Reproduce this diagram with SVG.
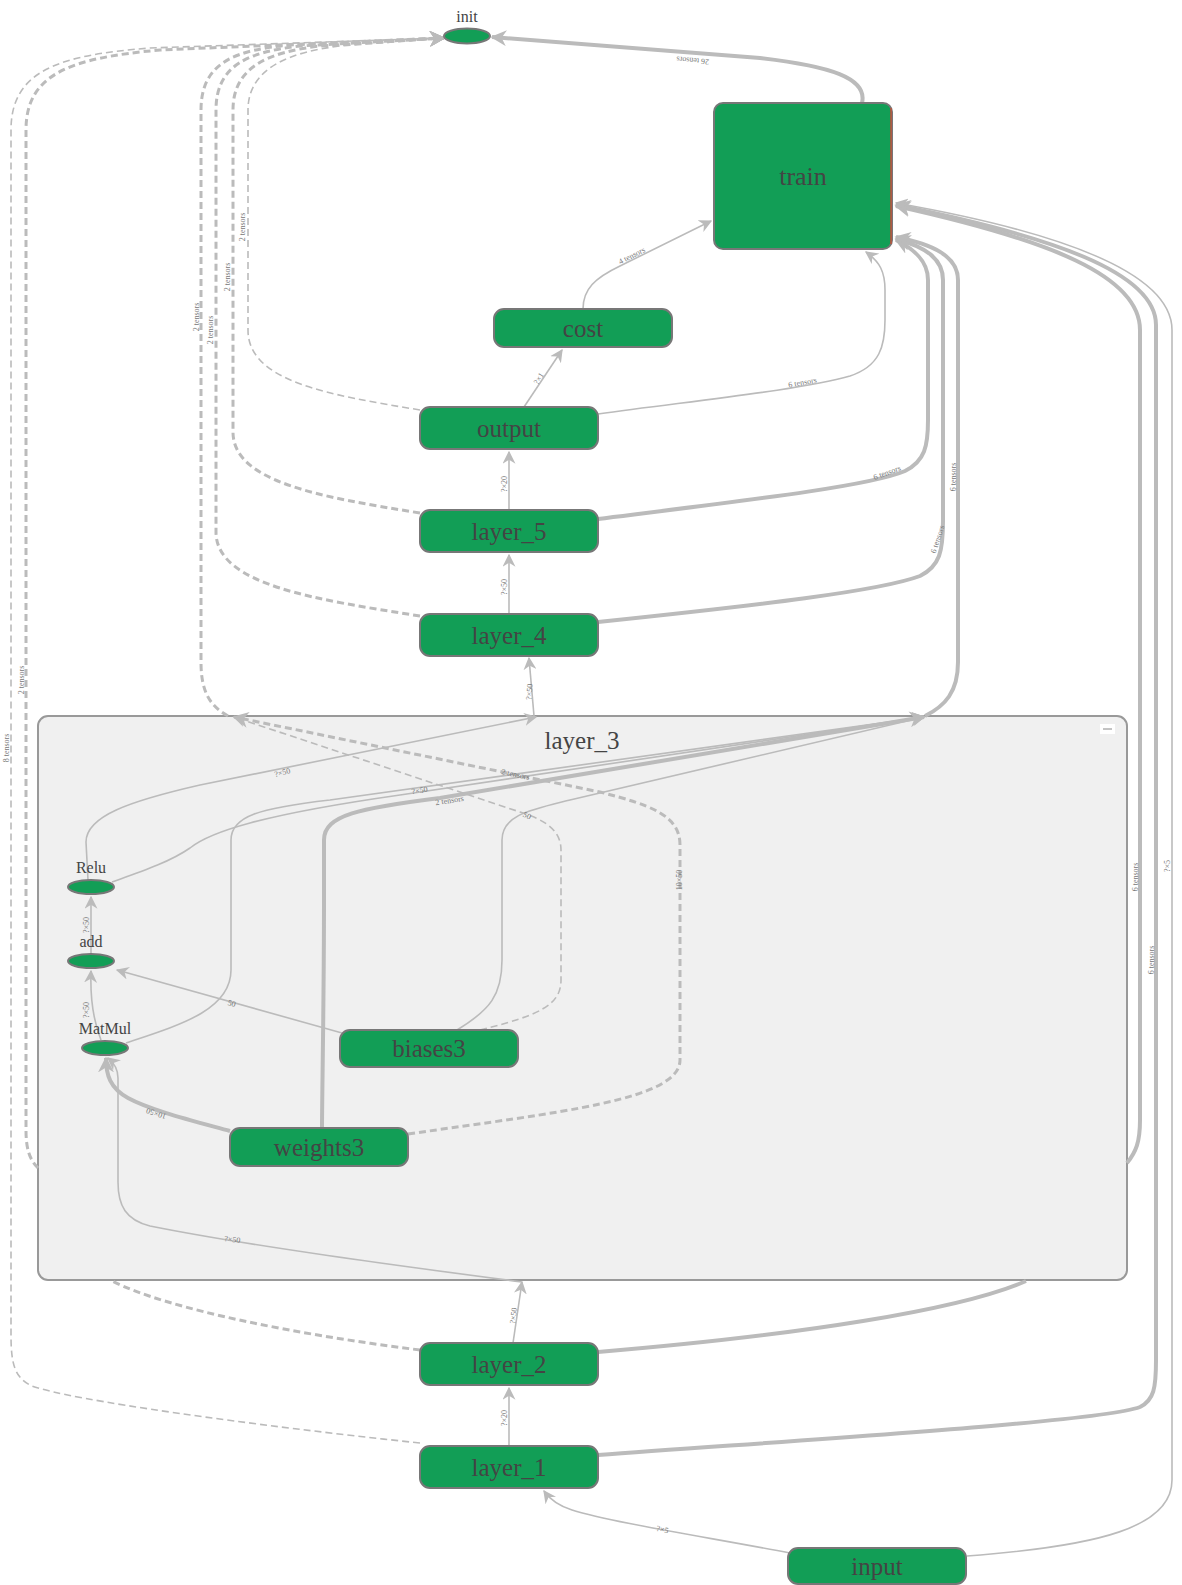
<svg xmlns="http://www.w3.org/2000/svg" width="1182" height="1585" viewBox="0 0 1182 1585">
  <defs>
    <marker id="arr" viewBox="0 0 10 10" refX="9" refY="5" markerWidth="13" markerHeight="13" markerUnits="userSpaceOnUse" orient="auto">
      <path d="M0,0 L10,5 L0,10 L3,5 z" fill="#bbbbbb"/>
    </marker>
    <marker id="arrBig" viewBox="0 0 10 10" refX="9" refY="5" markerWidth="16" markerHeight="16" markerUnits="userSpaceOnUse" orient="auto">
      <path d="M0,0 L10,5 L0,10 L3,5 z" fill="#bbbbbb"/>
    </marker>
    <style>
      .op { fill: #129e56; stroke: #777; stroke-width: 2; }
      .name { font-family: "Liberation Serif", "DejaVu Serif", serif; fill: #444; text-anchor: middle; }
      .big { font-size: 25px; }
      .small { font-size: 16px; }
      .e { fill: none; stroke: #bbbbbb; stroke-width: 1.6; marker-end: url(#arr); }
      .thick { stroke-width: 4; marker-end: url(#arrBig); }
      .dash { stroke-dasharray: 7 4; }
      .lbl { font-family: "Liberation Serif", "DejaVu Serif", serif; font-size: 8px; fill: #777; text-anchor: middle; }
    </style>
  </defs>

  <rect width="1182" height="1585" fill="#ffffff"/>

  <!-- cluster -->
  <g id="layer_3">
    <rect x="38" y="716" width="1089" height="564" rx="10" fill="#f0f0f0" stroke="#999" stroke-width="2"/>
    <text class="name big" x="582" y="749">layer_3</text>
    <rect x="1100" y="724" width="15" height="10" fill="#ffffff"/>
    <line x1="1103" y1="729" x2="1112" y2="729" stroke="#888" stroke-width="1"/>
  </g>

  <!-- connectors -->
  <g id="edges">
    <!-- into init -->
    <path class="e thick" d="M862,103 C868,78 830,66 760,58 L492,37"/>
    <path class="e dash" d="M420,410 C330,395 248,382 248,330 L248,110 C248,68 290,52 340,46 L444,38"/>
    <path class="e thick dash" style="stroke-width:3" d="M420,513 C320,497 233,482 233,432 L233,110 C233,66 270,52 320,46 L444,38"/>
    <path class="e thick dash" style="stroke-width:3" d="M420,616 C320,600 216,586 216,532 L216,110 C216,64 250,52 300,46 L444,38"/>
    <path class="e thick dash" style="stroke-width:3" d="M228,716 C210,706 201,692 201,662 L201,110 C201,62 236,50 290,45 L444,38"/>
    <path class="e thick dash" style="stroke-width:3" d="M420,1350 C300,1335 170,1310 112,1281 M38,1168 C30,1160 26,1150 26,1130 L26,130 C26,74 70,58 160,50 L444,38"/>
    <path class="e dash" d="M420,1443 C250,1425 70,1400 32,1386 C15,1378 11,1365 11,1335 L11,130 C11,70 60,55 150,48 L444,38"/>

    <!-- into train -->
    <path class="e" d="M583,309 C583,289 595,278 620,266 L711,221"/>
    <path class="e" d="M598,414 C700,400 800,390 850,376 C880,366 885,346 885,320 L885,290 C885,272 880,262 866,252"/>
    <path class="e thick" d="M598,519 C750,500 870,486 905,471 C925,461 928,446 928,420 L928,280 C928,262 916,250 896,240"/>
    <path class="e thick" d="M598,622 C760,605 880,591 920,576 C940,566 943,551 943,521 L943,280 C943,259 926,247 896,239"/>
    <path class="e thick" d="M925,716 C945,706 958,692 958,662 L958,280 C958,256 932,244 896,237"/>
    <path class="e thick" d="M598,1352 C800,1335 960,1310 1026,1281 M1127,1163 C1136,1152 1140,1142 1140,1120 L1140,330 C1140,276 1050,240 896,206"/>
    <path class="e thick" d="M598,1455 C800,1440 1100,1422 1140,1407 C1154,1400 1156,1388 1156,1360 L1156,325 C1156,272 1050,236 896,205"/>
    <path class="e" d="M967,1556 C1100,1546 1172,1527 1172,1480 L1172,330 C1172,272 1060,232 896,203"/>

    <!-- main chain -->
    <path class="e" d="M509,1446 L509,1388"/>
    <path class="e" d="M513,1343 L522,1282"/>
    <path class="e" d="M534,716 L529,658"/>
    <path class="e" d="M509,614 L509,555"/>
    <path class="e" d="M509,510 L509,452"/>
    <path class="e" d="M524,407 L562,350"/>
    <path class="e" d="M790,1553 C700,1536 610,1522 572,1510 C556,1505 549,1498 544,1491"/>

    <!-- inside layer_3 -->
    <path class="e" d="M101,1040 C93,1020 90,1000 91,971"/>
    <path class="e" d="M91,954 L91,897"/>
    <path class="e" d="M342,1033 L117,970"/>
    <path class="e thick" d="M230,1131 C190,1120 150,1110 128,1098 C110,1088 106,1075 106,1058"/>
    <path class="e" d="M522,1282 C400,1266 250,1246 150,1226 C126,1220 118,1206 118,1182 L118,1078 C118,1068 113,1062 108,1058"/>
    <path class="e" d="M88,880 L86,842 C86,816 130,801 200,785 L536,717"/>
    <path class="e" d="M112,882 C140,872 170,862 190,848 C210,832 260,815 400,795 L924,717"/>
    <path class="e" d="M126,1043 C180,1025 231,1010 231,970 L231,840 C231,816 260,808 330,800 L924,717"/>
    <path class="e thick" d="M322,1128 C322,1100 324,1000 324,900 L324,840 C324,815 360,808 440,798 L924,717"/>
    <path class="e" d="M457,1030 C490,1010 502,995 502,960 L502,840 C502,815 530,810 570,800 L924,717"/>
    <path class="e dash" d="M480,1030 C540,1015 561,1005 561,980 L561,850 C561,830 545,820 520,812 L234,717"/>
    <path class="e thick dash" style="stroke-width:3" d="M408,1134 C560,1112 680,1100 680,1060 L680,845 C680,815 650,805 600,792 L234,717"/>

    <!-- edge labels -->
    <text class="lbl" transform="rotate(185 693 58)" x="693" y="58">26 tensors</text>
    <text class="lbl" transform="rotate(-90 245 227)" x="245" y="227">2 tensors</text>
    <text class="lbl" transform="rotate(-90 230 277)" x="230" y="277">2 tensors</text>
    <text class="lbl" transform="rotate(-90 213 330)" x="213" y="330">2 tensors</text>
    <text class="lbl" transform="rotate(-90 199 317)" x="199" y="317">2 tensors</text>
    <text class="lbl" transform="rotate(-90 24 680)" x="24" y="680">2 tensors</text>
    <text class="lbl" transform="rotate(-90 9 748)" x="9" y="748">8 tensors</text>
    <text class="lbl" transform="rotate(-27 633 258)" x="633" y="258">4 tensors</text>
    <text class="lbl" transform="rotate(-10 803 385)" x="803" y="385">6 tensors</text>
    <text class="lbl" transform="rotate(-20 888 475)" x="888" y="475">6 tensors</text>
    <text class="lbl" transform="rotate(-72 940 540)" x="940" y="540">6 tensors</text>
    <text class="lbl" transform="rotate(-90 956 477)" x="956" y="477">6 tensors</text>
    <text class="lbl" transform="rotate(-90 1138 877)" x="1138" y="877">6 tensors</text>
    <text class="lbl" transform="rotate(-90 1154 960)" x="1154" y="960">6 tensors</text>
    <text class="lbl" transform="rotate(-90 1170 866)" x="1170" y="866">?×5</text>
    <text class="lbl" transform="rotate(-90 507 1418)" x="507" y="1418">?×20</text>
    <text class="lbl" transform="rotate(-82 516 1316)" x="516" y="1316">?×50</text>
    <text class="lbl" transform="rotate(-85 532 692)" x="532" y="692">?×50</text>
    <text class="lbl" transform="rotate(-90 507 587)" x="507" y="587">?×50</text>
    <text class="lbl" transform="rotate(-90 507 484)" x="507" y="484">?×20</text>
    <text class="lbl" transform="rotate(-57 541 380)" x="541" y="380">?×1</text>
    <text class="lbl" transform="rotate(12 662 1532)" x="662" y="1532">?×5</text>
    <text class="lbl" transform="rotate(-90 89 1010)" x="89" y="1010">?×50</text>
    <text class="lbl" transform="rotate(-90 89 925)" x="89" y="925">?×50</text>
    <text class="lbl" transform="rotate(15 231 1006)" x="231" y="1006">50</text>
    <text class="lbl" transform="rotate(198 157 1111)" x="157" y="1111">10×50</text>
    <text class="lbl" transform="rotate(8 232 1242)" x="232" y="1242">?×50</text>
    <text class="lbl" transform="rotate(-15 283 775)" x="283" y="775">?×50</text>
    <text class="lbl" transform="rotate(-9 420 793)" x="420" y="793">?×50</text>
    <text class="lbl" transform="rotate(-9 450 803)" x="450" y="803">2 tensors</text>
    <text class="lbl" transform="rotate(12 515 777)" x="515" y="777">2 tensors</text>
    <text class="lbl" transform="rotate(25 526 818)" x="526" y="818">50</text>
    <text class="lbl" transform="rotate(-90 682 880)" x="682" y="880">10×50</text>
  </g>

  <!-- nodes -->
  <g id="init">
    <ellipse class="op" cx="467" cy="36" rx="23" ry="7.5"/>
    <text class="name small" x="467" y="22">init</text>
  </g>
  <g id="train">
    <rect class="op" x="714" y="103" width="178" height="146" rx="9"/>
    <line x1="891" y1="108" x2="891" y2="244" stroke="#c0503a" stroke-width="1.5"/>
    <text class="name" style="font-size:26px" x="803" y="185">train</text>
  </g>
  <g id="cost">
    <rect class="op" x="494" y="309" width="178" height="38" rx="10"/>
    <text class="name big" x="583" y="337">cost</text>
  </g>
  <g id="output">
    <rect class="op" x="420" y="407" width="178" height="42" rx="10"/>
    <text class="name big" x="509" y="437">output</text>
  </g>
  <g id="layer_5">
    <rect class="op" x="420" y="510" width="178" height="42" rx="10"/>
    <text class="name big" x="509" y="540">layer_5</text>
  </g>
  <g id="layer_4">
    <rect class="op" x="420" y="614" width="178" height="42" rx="10"/>
    <text class="name big" x="509" y="644">layer_4</text>
  </g>
  <g id="Relu">
    <ellipse class="op" cx="91" cy="887" rx="23" ry="7"/>
    <text class="name small" x="91" y="873">Relu</text>
  </g>
  <g id="add">
    <ellipse class="op" cx="91" cy="961" rx="23" ry="7"/>
    <text class="name small" x="91" y="947">add</text>
  </g>
  <g id="MatMul">
    <ellipse class="op" cx="105" cy="1048" rx="23" ry="7"/>
    <text class="name small" x="105" y="1034">MatMul</text>
  </g>
  <g id="biases3">
    <rect class="op" x="340" y="1030" width="178" height="37" rx="10"/>
    <text class="name big" x="429" y="1057">biases3</text>
  </g>
  <g id="weights3">
    <rect class="op" x="230" y="1128" width="178" height="38" rx="10"/>
    <text class="name big" x="319" y="1156">weights3</text>
  </g>
  <g id="layer_2">
    <rect class="op" x="420" y="1343" width="178" height="42" rx="10"/>
    <text class="name big" x="509" y="1373">layer_2</text>
  </g>
  <g id="layer_1">
    <rect class="op" x="420" y="1446" width="178" height="42" rx="10"/>
    <text class="name big" x="509" y="1476">layer_1</text>
  </g>
  <g id="input">
    <rect class="op" x="788" y="1548" width="178" height="36" rx="10"/>
    <text class="name big" x="877" y="1575">input</text>
  </g>
</svg>
